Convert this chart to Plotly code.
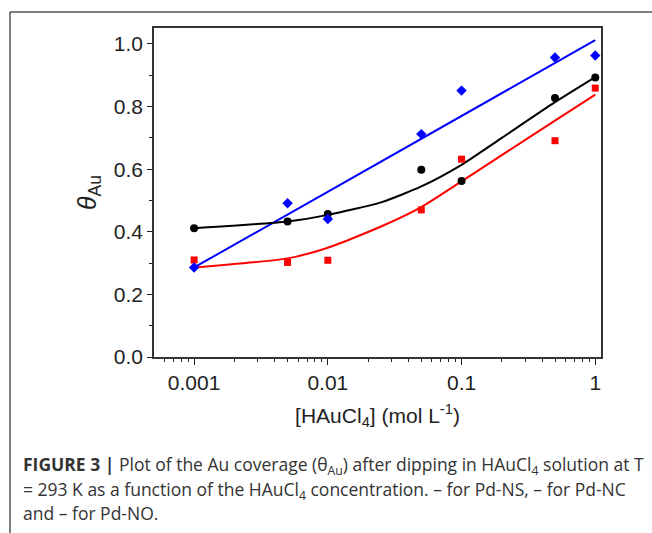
import plotly.graph_objects as go

# HAuCl4 concentration (mol/L)
conc = [0.001, 0.005, 0.01, 0.05, 0.1, 0.5, 1.0]

# Au coverage for the three Pd nanostructures
theta_ns = [0.286, 0.491, 0.441, 0.712, 0.851, 0.957, 0.963]   # blue diamonds
theta_nc = [0.411, 0.433, 0.457, 0.598, 0.562, 0.827, 0.893]   # black circles
theta_no = [0.310, 0.302, 0.309, 0.470, 0.632, 0.691, 0.859]   # red squares

# fitted curves
fit_ns_x = [0.001, 1.0]
fit_ns_y = [0.286, 1.012]
fit_nc_x = [0.001, 0.005, 0.01, 0.025, 0.05, 0.1, 0.2, 0.5, 1.0]
fit_nc_y = [0.411, 0.433, 0.454, 0.494, 0.545, 0.614, 0.700, 0.814, 0.894]
fit_no_x = [0.001, 0.005, 0.01, 0.025, 0.05, 0.1, 0.2, 0.5, 1.0]
fit_no_y = [0.286, 0.315, 0.349, 0.417, 0.479, 0.561, 0.645, 0.755, 0.838]

x_tick_vals = [0.001, 0.01, 0.1, 1]
x_tick_text = ["0.001", "0.01", "0.1", "1"]

caption_lines = [
    "<b>FIGURE 3 |</b> Plot of the Au coverage (θ<sub>Au</sub>) after dipping in HAuCl<sub>4</sub> solution at T",
    "= 293 K as a function of the HAuCl<sub>4</sub> concentration. – for Pd-NS, – for Pd-NC",
    "and – for Pd-NO.",
]
caption_y = [465, 490, 513]

W, H = 652, 533
ML, MR, MT, MB = 154, 51, 28, 176
PW, PH = W - ML - MR, H - MT - MB


def px(x):
    return (x - ML) / PW


def py(y):
    return (H - MB - y) / PH


BLUE, BLACK, RED = "#0000ff", "#000000", "#ff0000"
FONT = "Liberation Sans, Arial, sans-serif"
CAP_FONT = "Open Sans, Liberation Sans, sans-serif"

fig = go.Figure()

for fx, fy, c in [(fit_ns_x, fit_ns_y, BLUE), (fit_nc_x, fit_nc_y, BLACK), (fit_no_x, fit_no_y, RED)]:
    fig.add_trace(go.Scatter(x=fx, y=fy, mode="lines",
                             line=dict(color=c, width=2, shape="spline", smoothing=0.6),
                             showlegend=False, hoverinfo="skip"))

fig.add_trace(go.Scatter(x=conc, y=theta_no, mode="markers", name="Pd-NO",
                         marker=dict(symbol="square", size=7, color=RED)))
fig.add_trace(go.Scatter(x=conc, y=theta_nc, mode="markers", name="Pd-NC",
                         marker=dict(symbol="circle", size=8, color=BLACK)))
fig.add_trace(go.Scatter(x=conc, y=theta_ns, mode="markers", name="Pd-NS",
                         marker=dict(symbol="diamond", size=8, color=BLUE)))

minor_vals = [m * 10 ** e for e in range(-4, 1) for m in range(2, 10)]

fig.update_xaxes(
    type="log", range=[-3.30, 0.043],
    tickmode="array", tickvals=x_tick_vals, ticktext=x_tick_text,
    ticks="outside", ticklen=6, tickwidth=1.2, tickcolor="#222",
    minor=dict(tickmode="array", tickvals=minor_vals, ticks="outside",
               ticklen=3.5, tickwidth=1, tickcolor="#222", showgrid=False),
    showline=True, linecolor="#333", linewidth=1.5, mirror=True,
    showgrid=False, zeroline=False,
    tickfont=dict(family=FONT, size=21, color="#222"),
    title=dict(text="[HAuCl<sub>4</sub>] (mol L<sup>-1</sup>)",
               font=dict(family=FONT, size=21, color="#222"), standoff=15),
)
fig.update_yaxes(
    range=[0, 1.051], tickmode="linear", tick0=0, dtick=0.2, tickformat=".1f",
    ticks="outside", ticklen=5, tickwidth=1.2, tickcolor="#222",
    minor=dict(dtick=0.1, ticks="outside", ticklen=3, tickwidth=1,
               tickcolor="#222", showgrid=False),
    showline=True, linecolor="#333", linewidth=1.5, mirror=True,
    showgrid=False, zeroline=False,
    tickfont=dict(family=FONT, size=21, color="#222"),
    title=dict(text="<i>θ</i><sub>Au</sub>",
               font=dict(family=FONT, size=25, color="#222"), standoff=10),
)

# outer figure frame (left and top edges)
frame = dict(color="#555", width=1.5)
fig.add_shape(type="line", xref="paper", yref="paper",
              x0=px(10), x1=px(10), y0=py(12), y1=py(H + 5), line=frame)
fig.add_shape(type="line", xref="paper", yref="paper",
              x0=px(10), x1=px(W + 5), y0=py(12), y1=py(12), line=frame)

# caption, one annotation per line
for line, yc in zip(caption_lines, caption_y):
    fig.add_annotation(text=line, xref="paper", yref="paper", x=px(21), y=py(yc),
                       xanchor="left", yanchor="middle", align="left", showarrow=False,
                       font=dict(family=CAP_FONT, size=17.5, color="#333"))

fig.update_layout(
    width=W, height=H,
    margin=dict(l=ML, r=MR, t=MT, b=MB),
    paper_bgcolor="white", plot_bgcolor="white",
    showlegend=False,
)

fig.write_html("out.html")
